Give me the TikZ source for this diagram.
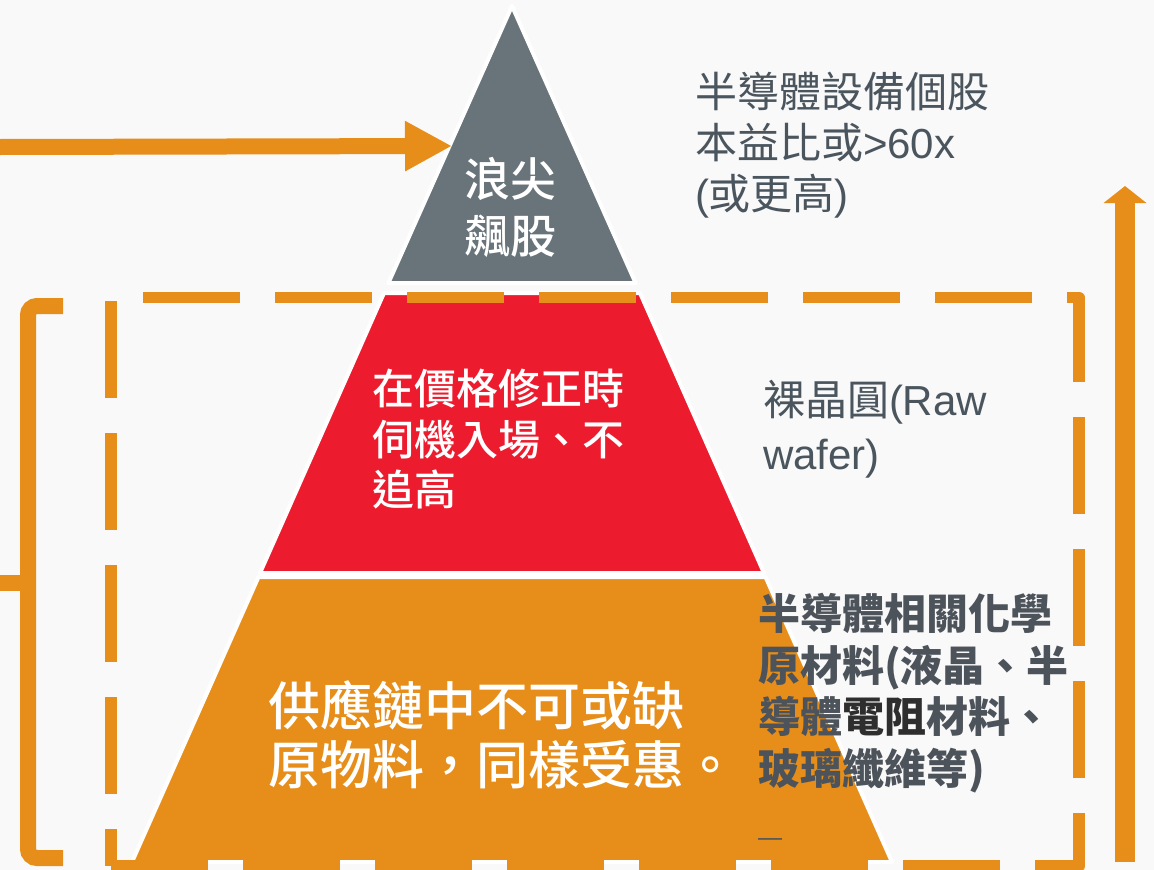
\documentclass[tikz,border=0pt]{standalone}
\usepackage{fontspec}
\setmainfont{Noto Sans CJK TC}
\newfontfamily\medf{Noto Sans CJK TC}[UprightFont=* Medium]
\newfontfamily\lat{Liberation Sans}
\usetikzlibrary{arrows.meta}
\definecolor{bg}{HTML}{F9F9F9}
\definecolor{pgrey}{HTML}{68737A}
\definecolor{pred}{HTML}{EC1C2E}
\definecolor{porange}{HTML}{E68E19}
\definecolor{tgrey}{HTML}{4A555E}
\definecolor{tbold}{HTML}{4D535A}
\definecolor{tdark}{HTML}{2E2E2E}
\begin{document}
\begin{tikzpicture}[x=1pt,y=-1pt,
  seg/.style={draw=white,line width=4pt,line join=round},
  ln/.style={anchor=base west,inner sep=0pt,outer sep=0pt},
  rtext/.style={ln,text=tgrey,font=\fontsize{42}{52}\selectfont},
  btext/.style={ln,text=tbold,font=\fontsize{42}{52}\selectfont\bfseries},
  redtext/.style={ln,text=white,font=\medf\fontsize{42}{52}\selectfont},
  toptext/.style={ln,text=white,font=\medf\fontsize{46}{57}\selectfont},
  orgtext/.style={ln,text=white,font=\medf\fontsize{52}{60}\selectfont},
  thickorange/.style={draw=porange,line width=#1},
  dashbox/.style={draw=porange,line width=11.5pt,dash pattern=on 97pt off 35pt,line join=round}
]
\useasboundingbox (0,0) rectangle (1154,870);
\fill[bg] (0,0) rectangle (1154,870);

% pyramid
\path[seg,fill=porange] (258.5,577) -- (765.5,577) -- (892,862) -- (132,862) -- cycle;
\path[seg,fill=pred] (384,293) -- (640,293) -- (764,573) -- (260,573) -- cycle;
\path[seg,fill=pgrey] (512,6) -- (635.6,283) -- (388.4,283) -- cycle;

% dashed frame (starts bottom-left, runs right, up, left, down)
\draw[dashbox] (111,866) -- (1079,866) -- (1079,297.5) -- (111,297.5) -- cycle;

% bracket
\draw[thickorange=16pt,rounded corners=9pt] (63,306) -- (28,306) -- (28,858) -- (63,858);
\coordinate (brmid) at (28,583);
\coordinate (brtip) at (0,583);
\draw[thickorange=16pt] (brmid) -- (brtip);

% left arrow to the top
\coordinate (lastart) at (0,147);
\coordinate (laend) at (452,146);
\draw[thickorange=16pt,-{Triangle[length=47pt,width=47pt]}] (lastart) -- (laend);

% right vertical arrow
\coordinate (rastart) at (1125,862);
\coordinate (raend) at (1125,186);
\draw[thickorange=20pt,-{Triangle[length=17pt,width=42pt]}] (rastart) -- (raend);

% top segment text
\node[toptext] (top1) at (464,196) {浪尖};
\node[toptext] (top2) at (464,253) {飆股};

% red segment text
\node[redtext] (red1) at (372,404) {在價格修正時};
\node[redtext] (red2) at (372,455) {伺機入場、不};
\node[redtext] (red3) at (372,505) {追高};

% orange segment text
\node[orgtext] (org1) at (268,725) {供應鏈中不可或缺};
\node[orgtext] (org2) at (268,784) {原物料，同樣受惠。};

% right texts
\node[rtext] (r1a) at (695,107) {半導體設備個股};
\node[rtext] (r1b) at (695,158) {本益比或{\lat >60x}};
\node[rtext] (r1c) at (695,209) {{\lat (}或更高{\lat )}};

\node[rtext] (r2a) at (763,415) {裸晶圓{\lat (Raw}};
\node[rtext] (r2b) at (763,469) {{\lat wafer)}};

\node[btext] (r3a) at (758,629) {半導體相關化學};
\node[btext] (r3b) at (758,681) {原材料(液晶、半};
\node[btext] (r3c) at (758,732) {導體{\color{tdark}電阻}材料、};
\node[btext] (r3d) at (758,784) {玻璃纖維等)};
\node[ln,text=tbold,font=\lat\fontsize{24}{24}\selectfont] (dash) at (758,845) {—};
\end{tikzpicture}
\end{document}
